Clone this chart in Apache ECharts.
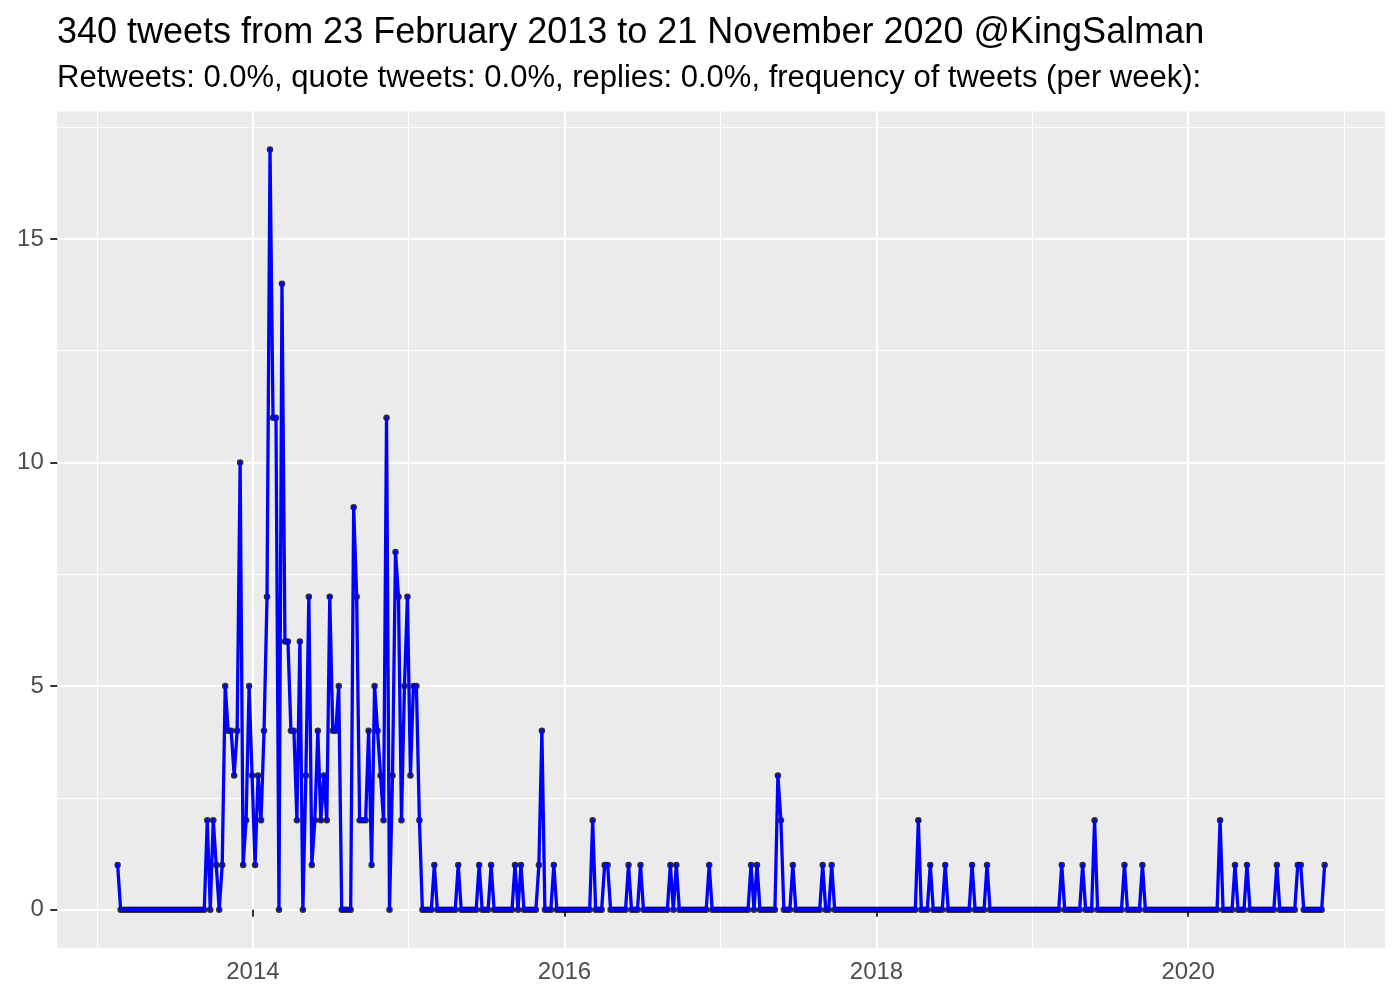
<!DOCTYPE html>
<html>
<head>
<meta charset="utf-8">
<script src="https://cdn.jsdelivr.net/npm/echarts@6/dist/echarts.min.js"></script>
<style>
  html, body { margin: 0; padding: 0; background: #ffffff; }
  #chart { width: 1400px; height: 1000px; }
</style>
</head>
<body>
<div id="chart"></div>
<script>
// ---- data ----
const titleText = '340 tweets from 23 February 2013 to 21 November 2020 @KingSalman';
const subtitleText = 'Retweets: 0.0%, quote tweets: 0.0%, replies: 0.0%, frequency of tweets (per week):';
const firstWeek = '2013-02-18';        // start of first weekly bin
const weekDays = 7;
const tweetsPerWeek = [
  1,0,0,0,0,0,0,0,0,0, 0,0,0,0,0,0,0,0,0,0,
  0,0,0,0,0,0,0,0,0,0, 2,0,2,1,0,1,5,4,4,3,
  4,10,1,2,5,3,1,3,2,4, 7,17,11,11,0,14,6,6,4,4,
  2,6,0,3,7,1,2,4,2,3, 2,7,4,4,5,0,0,0,0,9,
  7,2,2,2,4,1,5,4,3,2, 11,0,3,8,7,2,5,7,3,5,
  5,2,0,0,0,0,1,0,0,0, 0,0,0,0,1,0,0,0,0,0,
  0,1,0,0,0,1,0,0,0,0, 0,0,0,1,0,1,0,0,0,0,
  0,1,4,0,0,0,1,0,0,0, 0,0,0,0,0,0,0,0,0,2,
  0,0,0,1,1,0,0,0,0,0, 0,1,0,0,0,1,0,0,0,0,
  0,0,0,0,0,1,0,1,0,0, 0,0,0,0,0,0,0,0,1,0,
  0,0,0,0,0,0,0,0,0,0, 0,0,1,0,1,0,0,0,0,0,
  0,3,2,0,0,0,1,0,0,0, 0,0,0,0,0,0,1,0,0,1,
  0,0,0,0,0,0,0,0,0,0, 0,0,0,0,0,0,0,0,0,0,
  0,0,0,0,0,0,0,0,2,0, 0,0,1,0,0,0,0,1,0,0,
  0,0,0,0,0,0,1,0,0,0, 0,1,0,0,0,0,0,0,0,0,
  0,0,0,0,0,0,0,0,0,0, 0,0,0,0,0,0,1,0,0,0,
  0,0,0,1,0,0,0,2,0,0, 0,0,0,0,0,0,0,1,0,0,
  0,0,0,1,0,0,0,0,0,0, 0,0,0,0,0,0,0,0,0,0,
  0,0,0,0,0,0,0,0,0,2, 0,0,0,0,1,0,0,0,1,0,
  0,0,0,0,0,0,0,0,1,0, 0,0,0,0,0,1,1,0,0,0,
  0,0,0,0,1
];
const majorYears = [2014, 2016, 2018, 2020];
const minorYears = [2013, 2015, 2017, 2019, 2021];
const yMajorTicks = [0, 5, 10, 15];
const yMinorTicks = [2.5, 7.5, 12.5, 17.5];

// ---- build ----
const DAY = 86400000;
const t0 = Date.parse(firstWeek + 'T00:00:00Z');
const points = tweetsPerWeek.map((v, i) => [t0 + i * weekDays * DAY, v]);
const tFirst = points[0][0];
const tLast = points[points.length - 1][0];
const xSpan = tLast - tFirst;
const xMin = tFirst - 0.05 * xSpan;
const xMax = tLast + 0.05 * xSpan;
const yMaxVal = Math.max(...tweetsPerWeek);
const yMin = 0 - 0.05 * yMaxVal;
const yMax = yMaxVal + 0.05 * yMaxVal;
const yearTs = y => Date.UTC(y, 0, 1);

const tickFont = { fontFamily: 'Liberation Sans', fontSize: 24, color: '#4D4D4D' };

const chart = echarts.init(document.getElementById('chart'), null, { renderer: 'canvas' });
chart.setOption({
  animation: false,
  backgroundColor: '#ffffff',
  title: [
    { text: titleText, left: 57, top: 15, padding: 0,
      textStyle: { fontFamily: 'Liberation Sans', fontSize: 36, fontWeight: 'normal', color: '#000000' } },
    { text: subtitleText, left: 57, top: 63, padding: 0,
      textStyle: { fontFamily: 'Liberation Sans', fontSize: 31, fontWeight: 'normal', color: '#000000' } }
  ],
  grid: { left: 57.3, right: 15, top: 111.5, bottom: 52.3, show: true,
          backgroundColor: '#EBEBEB', borderWidth: 0, containLabel: false },
  xAxis: [
    { type: 'value', min: xMin, max: xMax, position: 'bottom',
      axisLine: { show: false },
      axisTick: { show: true, length: 7, lineStyle: { color: '#333333', width: 2 },
                  customValues: majorYears.map(yearTs) },
      axisLabel: { show: true, margin: 13, ...tickFont,
                   customValues: majorYears.map(yearTs),
                   formatter: v => String(new Date(v).getUTCFullYear()) },
      splitLine: { show: true, lineStyle: { color: '#FFFFFF', width: 2.2 } } },
    { type: 'value', min: xMin, max: xMax, position: 'bottom',
      axisLine: { show: false },
      axisTick: { show: false, customValues: minorYears.map(yearTs) },
      axisLabel: { show: false, customValues: minorYears.map(yearTs) },
      splitLine: { show: true, lineStyle: { color: '#FFFFFF', width: 1.1 } } }
  ],
  yAxis: [
    { type: 'value', min: yMin, max: yMax,
      axisLine: { show: false },
      axisTick: { show: true, length: 7, lineStyle: { color: '#333333', width: 2 },
                  customValues: yMajorTicks },
      axisLabel: { show: true, margin: 13.5, ...tickFont, customValues: yMajorTicks },
      splitLine: { show: true, lineStyle: { color: '#FFFFFF', width: 2.2 } } },
    { type: 'value', min: yMin, max: yMax,
      axisLine: { show: false },
      axisTick: { show: false, customValues: yMinorTicks },
      axisLabel: { show: false, customValues: yMinorTicks },
      splitLine: { show: true, lineStyle: { color: '#FFFFFF', width: 1.1 } } }
  ],
  series: [
    { type: 'scatter', xAxisIndex: 0, yAxisIndex: 0, data: points, z: 2,
      symbol: 'circle', symbolSize: 6.5, itemStyle: { color: '#000000' }, silent: true },
    { type: 'line', xAxisIndex: 0, yAxisIndex: 0, data: points, z: 3,
      showSymbol: false, symbol: 'none',
      lineStyle: { color: '#0000FF', width: 3.3, join: 'round', cap: 'round' }, silent: true }
  ]
});
</script>
</body>
</html>
